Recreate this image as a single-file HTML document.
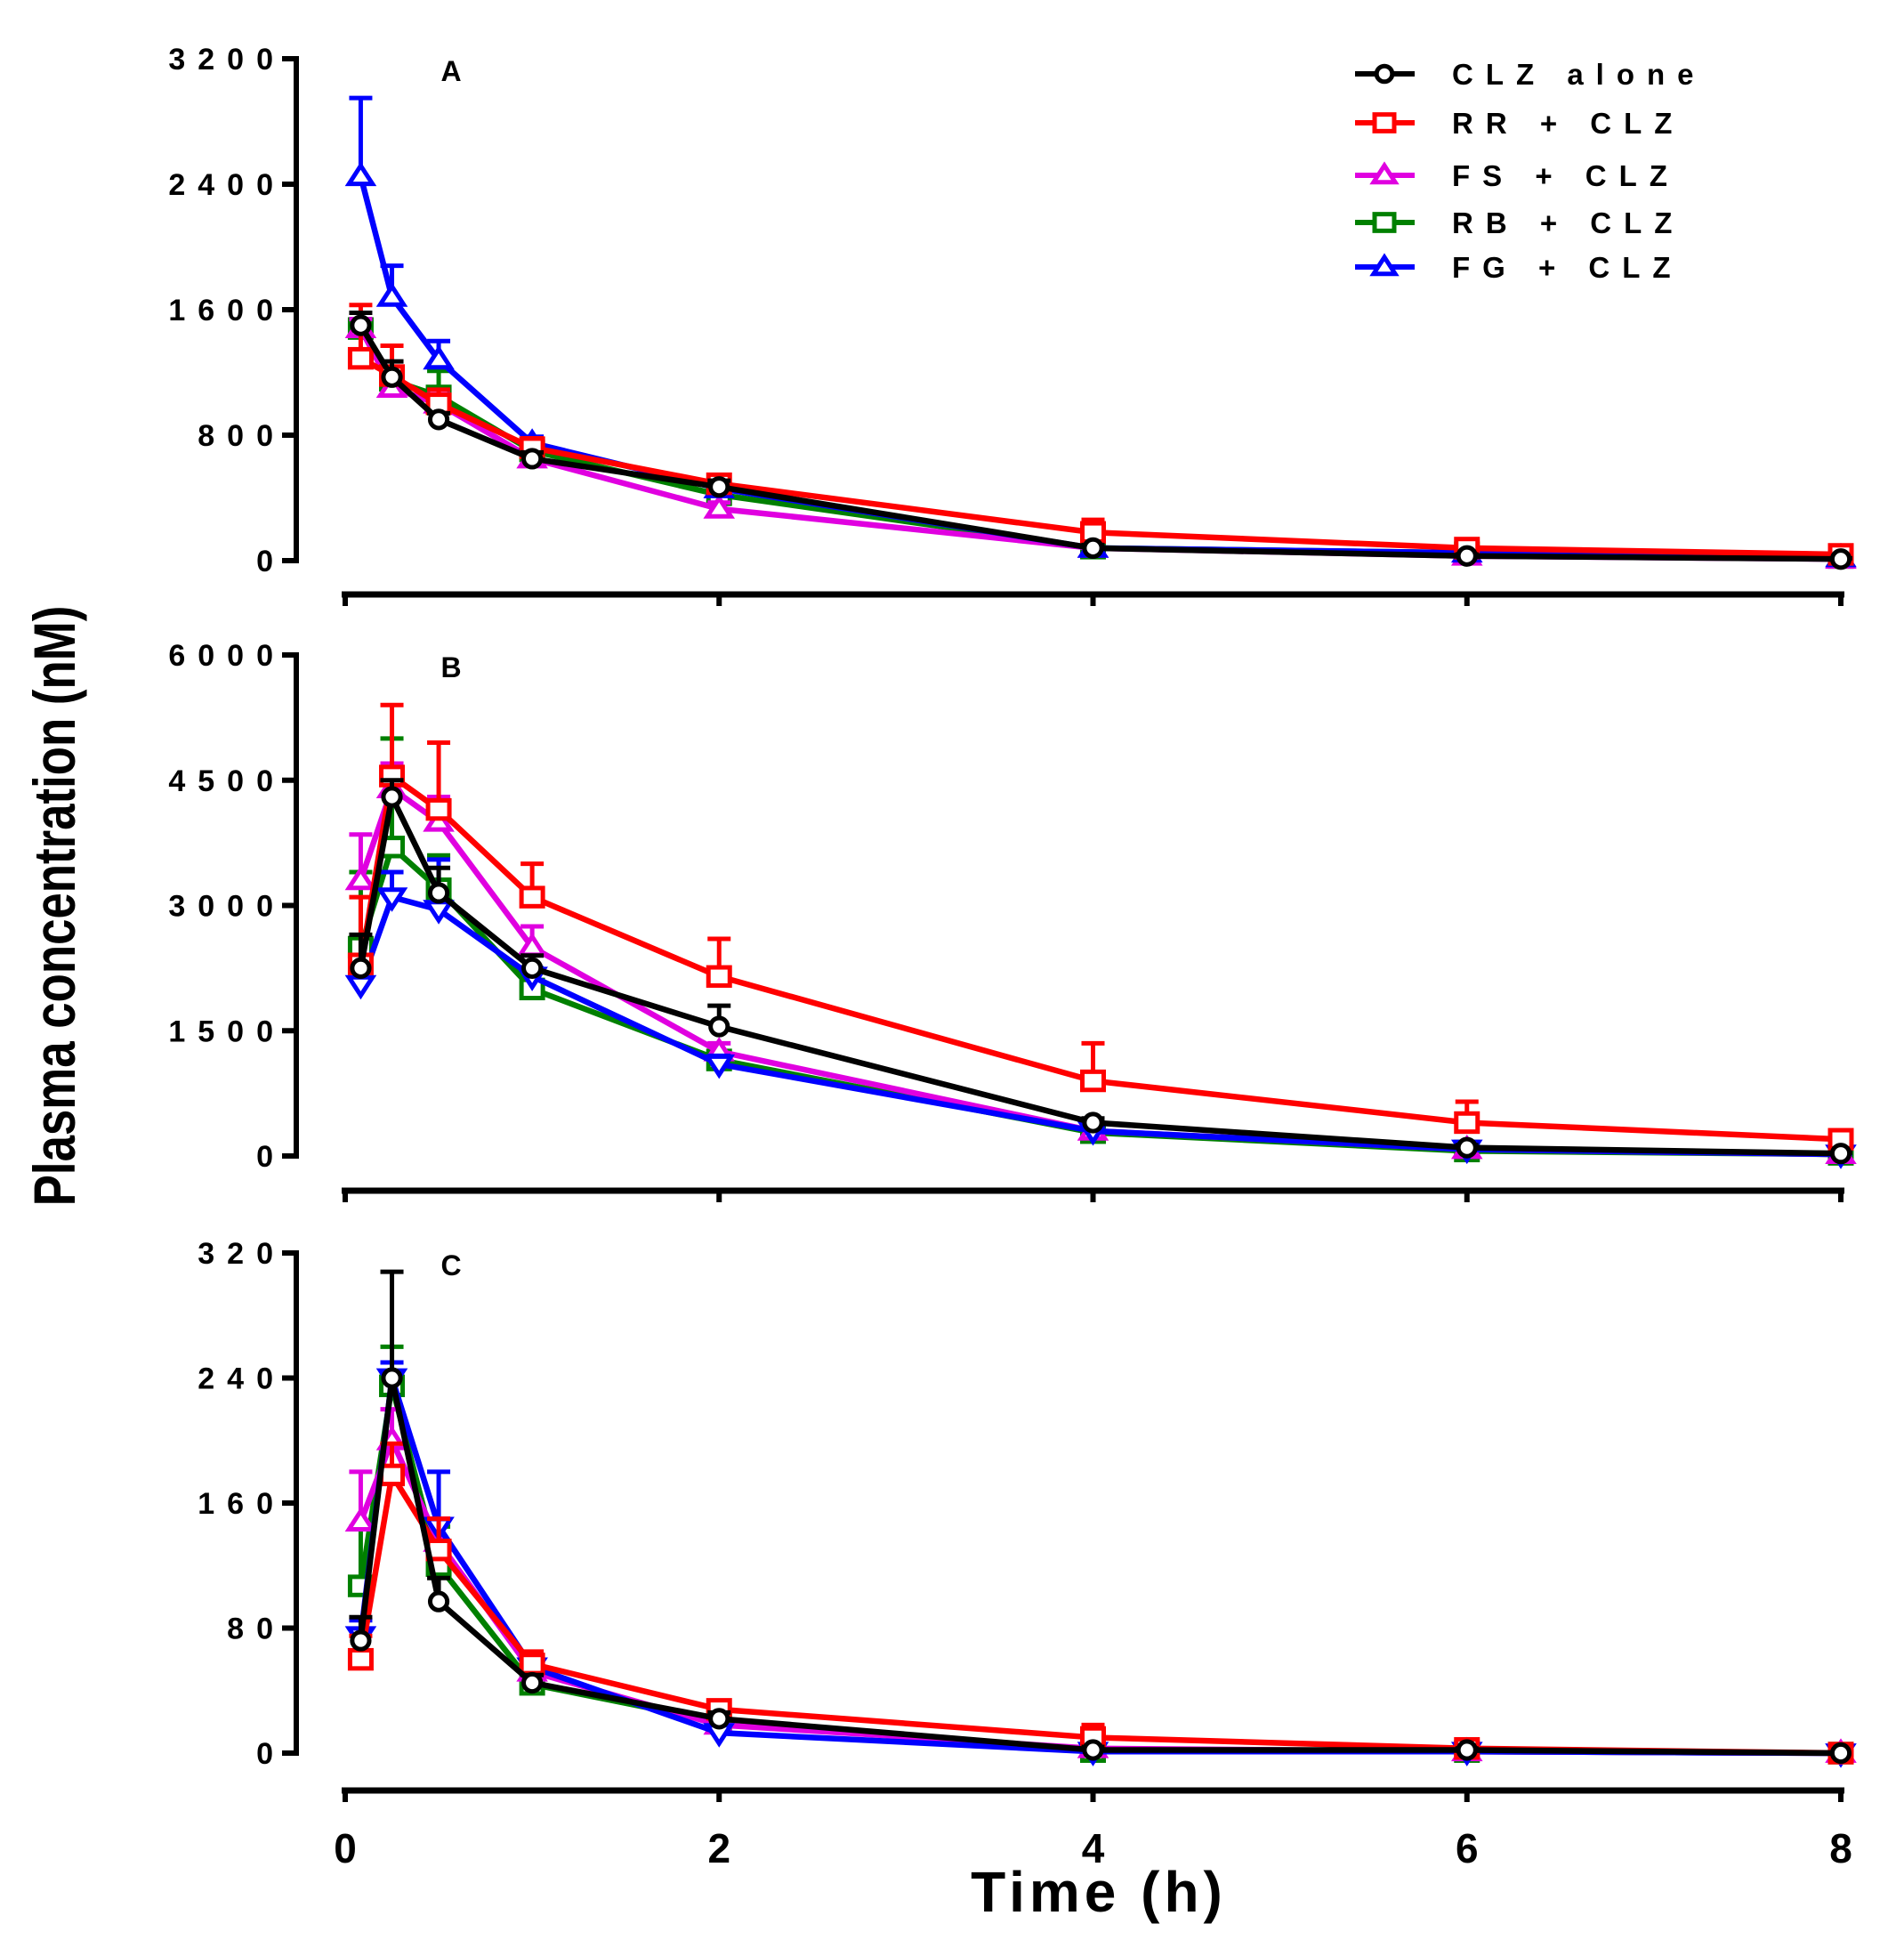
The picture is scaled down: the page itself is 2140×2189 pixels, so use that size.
<!DOCTYPE html>
<html><head><meta charset="utf-8"><style>
html,body{margin:0;padding:0;background:#fff;}
svg{display:block;font-family:"Liberation Sans",Arial,sans-serif;}
.tick{font-weight:bold;font-size:34px;letter-spacing:14px;}
.leg{font-weight:bold;font-size:33px;letter-spacing:14px;}
</style></head><body>
<svg id="chart" width="2140" height="2189" viewBox="0 0 2140 2189" xmlns="http://www.w3.org/2000/svg">
<text x="0" y="0" transform="translate(84,1018) rotate(-90) scale(0.8,1)" text-anchor="middle" font-size="66" font-weight="bold">Plasma concentration (nM)</text>
<text x="1235" y="2148" text-anchor="middle" font-size="64" font-weight="bold" letter-spacing="5">Time (h)</text>
<g id="panels"></g>
<g id="legend"></g>
</svg>
<script>
const times = [0.083, 0.25, 0.5, 1, 2, 4, 6, 8];
const xTicks = [0, 2, 4, 6, 8];
const seriesNames = ["CLZ alone", "RR + CLZ", "FS + CLZ", "RB + CLZ", "FG + CLZ"];
const seriesColors = ["#000000", "#ff0000", "#e000e0", "#008000", "#0000ff"];
const seriesMarkers = ["circle", "square", "triangle", "square", "triangle"];
const panelLabels = ["A", "B", "C"];
const panelMax = [3200, 6000, 320];
const ticksA = [0, 800, 1600, 2400, 3200];
const ticksB = [0, 1500, 3000, 4500, 6000];
const ticksC = [0, 80, 160, 240, 320];
// Panel A
const A_CLZ = [1500, 1170, 900, 650, 470, 80, 30, 10];
const A_RR  = [1290, 1180, 1000, 720, 490, 180, 80, 40];
const A_FS  = [1480, 1100, 1000, 650, 330, 80, 30, 10];
const A_RB  = [1480, 1150, 1050, 700, 420, 80, 50, 20];
const A_FG  = [2450, 1680, 1280, 750, 460, 80, 50, 20];
const A_CLZ_err = [80, 100, 40, 40, 40, 20, 10, 5];
const A_RR_err  = [340, 190, 90, 60, 50, 80, 30, 10];
const A_FS_err  = [60, 60, 60, 40, 40, 20, 10, 5];
const A_RB_err  = [60, 80, 160, 60, 40, 20, 10, 5];
const A_FG_err  = [500, 200, 120, 40, 40, 20, 10, 5];
// Panel B
const B_CLZ = [2250, 4300, 3150, 2250, 1550, 400, 100, 30];
const B_RR  = [2300, 4550, 4150, 3100, 2150, 900, 400, 200];
const B_FS  = [3300, 4400, 4000, 2500, 1250, 300, 80, 20];
const B_RB  = [2500, 3700, 3200, 2000, 1150, 280, 60, 20];
const B_FG  = [2050, 3100, 2950, 2150, 1100, 300, 80, 20];
const B_CLZ_err = [400, 200, 300, 150, 250, 50, 30, 10];
const B_RR_err  = [800, 850, 800, 400, 450, 450, 250, 50];
const B_FS_err  = [550, 300, 300, 250, 100, 50, 30, 10];
const B_RB_err  = [900, 1300, 400, 200, 100, 50, 30, 10];
const B_FG_err  = [200, 300, 600, 100, 100, 50, 30, 10];
// Panel C
const C_CLZ = [72, 240, 97, 45, 22, 2, 2, 0];
const C_RR  = [60, 178, 130, 57, 28, 10, 3, 0];
const C_FS  = [148, 200, 135, 52, 18, 3, 1, 0];
const C_RB  = [107, 235, 120, 44, 20, 1, 1, 0];
const C_FG  = [75, 240, 145, 55, 13, 1, 1, 0];
const C_CLZ_err = [15, 68, 15, 5, 4, 2, 1, 0];
const C_RR_err  = [15, 20, 20, 8, 4, 8, 2, 0];
const C_FS_err  = [32, 20, 15, 5, 4, 2, 1, 0];
const C_RB_err  = [38, 25, 25, 5, 4, 2, 1, 0];
const C_FG_err  = [10, 10, 35, 5, 4, 2, 1, 0];

const panelsData = [[A_CLZ, A_RR, A_FS, A_RB, A_FG], [B_CLZ, B_RR, B_FS, B_RB, B_FG], [C_CLZ, C_RR, C_FS, C_RB, C_FG]];
const panelsErr = [[A_CLZ_err, A_RR_err, A_FS_err, A_RB_err, A_FG_err], [B_CLZ_err, B_RR_err, B_FS_err, B_RB_err, B_FG_err], [C_CLZ_err, C_RR_err, C_FS_err, C_RB_err, C_FG_err]];
const panelTicks = [ticksA, ticksB, ticksC];

const NS = "http://www.w3.org/2000/svg";
const geo = [{top: 66, bot: 630, xaxis: 668}, {top: 736, bot: 1299, xaxis: 1338}, {top: 1408, bot: 1970, xaxis: 2012}];
const X0 = 388, X8 = 2069, YAX = 333;
function xs(t){ return X0 + (X8 - X0) * t / 8; }
function mk(tag, attrs, parent){ const e = document.createElementNS(NS, tag); for (const k in attrs) e.setAttribute(k, attrs[k]); parent.appendChild(e); return e; }

function marker(g, type, x, y, color, s){
  let e;
  if (type === "circle") e = mk("circle", {cx: x, cy: y, r: s*0.8, fill: "#fff", stroke: color, "stroke-width": 5}, g);
  else if (type === "square") e = mk("rect", {x: x - s, y: y - s*0.85, width: 2*s, height: 1.7*s, fill: "#fff", stroke: color, "stroke-width": 5}, g);
  else if (type === "triangle") e = mk("polygon", {points: `${x},${y - s} ${x - s*1.1},${y + s*0.7} ${x + s*1.1},${y + s*0.7}`, fill: "#fff", stroke: color, "stroke-width": 5}, g);
  else e = mk("polygon", {points: `${x},${y + s} ${x - s*1.1},${y - s*0.7} ${x + s*1.1},${y - s*0.7}`, fill: "#fff", stroke: color, "stroke-width": 5}, g);
  return e;
}

const root = document.getElementById("panels");
for (let p = 0; p < 3; p++){
  const G = geo[p];
  const ys = v => G.bot - (G.bot - G.top) * v / panelMax[p];
  const pg = mk("g", {}, root);
  
  
  const ya = mk("line", {x1: YAX, y1: G.top - 3, x2: YAX, y2: G.bot + 3, stroke: "#000", "stroke-width": 6}, pg);
  
  
  panelTicks[p].forEach(v => {
    mk("line", {x1: YAX - 16, y1: ys(v), x2: YAX, y2: ys(v), stroke: "#000", "stroke-width": 6}, pg);
    const t = mk("text", {x: YAX - 26 + 14, y: ys(v) + 12, "text-anchor": "end", class: "tick"}, pg);
    t.textContent = v;
    
    
  });
  const xa = mk("line", {x1: X0 - 4, y1: G.xaxis, x2: X8 + 4, y2: G.xaxis, stroke: "#000", "stroke-width": 7}, pg);
  
  
  xTicks.forEach(v => {
    mk("line", {x1: xs(v), y1: G.xaxis, x2: xs(v), y2: G.xaxis + 13, stroke: "#000", "stroke-width": 6}, pg);
    if (p === 2){
      const t = mk("text", {x: xs(v), y: 2093, "text-anchor": "middle", "font-size": 46, "font-weight": "bold"}, pg);
      t.textContent = v;
      
      
    }
  });
  const lab = mk("text", {x: 507, y: G.top + 25, "text-anchor": "middle", "font-size": 32, "font-weight": "bold"}, pg);
  lab.textContent = panelLabels[p];
  
  
  const order = [3, 2, 4, 1, 0];
  order.forEach(si => {
    const data = panelsData[p][si], err = panelsErr[p][si], col = seriesColors[si];
    const mtype = (si === 4 && p > 0) ? "triangle-down" : seriesMarkers[si];
    const sg = mk("g", {}, pg);
    
    
    data.forEach((v, i) => {
      const x = xs(times[i]), y = ys(v), yt = ys(v + err[i]);
      if (err[i] > 0){
        mk("line", {x1: x, y1: y, x2: x, y2: yt, stroke: col, "stroke-width": 5}, sg);
        mk("line", {x1: x - 13, y1: yt, x2: x + 13, y2: yt, stroke: col, "stroke-width": 5}, sg);
      }
    });
    const pts = data.map((v, i) => xs(times[i]) + "," + ys(v)).join(" ");
    const pl = mk("polyline", {points: pts, fill: "none", stroke: col, "stroke-width": 6.5, "stroke-linejoin": "round"}, sg);
    
    
    data.forEach((v, i) => {
      const m = marker(sg, mtype, xs(times[i]), ys(v), col, 12);
      
      
    });
  });
}
const lg = document.getElementById("legend");
const legY = [83, 138, 197, 250, 300];
seriesNames.forEach((n, i) => {
  const eg = mk("g", {}, lg);
  
  
  mk("line", {x1: 1523, y1: legY[i], x2: 1590, y2: legY[i], stroke: seriesColors[i], "stroke-width": 6}, eg);
  marker(eg, seriesMarkers[i], 1556, legY[i], seriesColors[i], 11);
  const t = mk("text", {x: 1632, y: legY[i] + 12, class: "leg"}, eg);
  t.textContent = n;
});
</script>
</body></html>
